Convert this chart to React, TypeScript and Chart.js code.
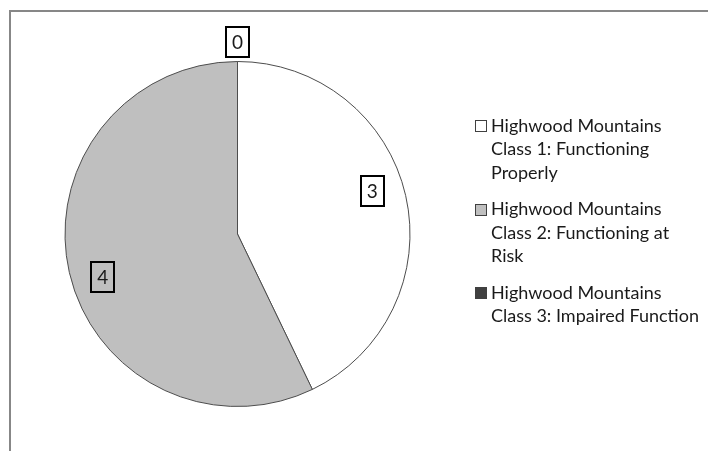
import React, { useEffect, useRef } from "react";
import { Chart, registerables } from "chart.js";

Chart.register(...registerables);

// Category names, split the way the legend wraps them
const categories: string[][] = [
  ["Highwood Mountains", "Class 1: Functioning", "Properly"],
  ["Highwood Mountains", "Class 2: Functioning at", "Risk"],
  ["Highwood Mountains", "Class 3: Impaired Function"],
];
const values: number[] = [3, 4, 0];
const sliceColors: string[] = ["#ffffff", "#bfbfbf", "#404040"];

const FONT = "Lato, 'Open Sans', sans-serif";
const TEXT_COLOR = "#1a1a1a";

export default function App() {
  const ref = useRef<HTMLCanvasElement>(null);

  useEffect(() => {
    const canvas = ref.current;
    if (!canvas) return;

    const framePlugin = {
      id: "frame",
      beforeDraw(chart: any) {
        const ctx = chart.ctx;
        ctx.save();
        ctx.fillStyle = "#ffffff";
        ctx.fillRect(0, 0, chart.width, chart.height);
        ctx.strokeStyle = "#878787";
        ctx.lineWidth = 2;
        ctx.beginPath();
        ctx.moveTo(10, chart.height);
        ctx.lineTo(10, 11);
        ctx.lineTo(chart.width, 11);
        ctx.stroke();
        ctx.restore();
      },
    };

    const labelPlugin = {
      id: "boxedLabels",
      afterDatasetsDraw(chart: any) {
        const ctx = chart.ctx;
        const meta = chart.getDatasetMeta(0);
        const shift = (-5 * Math.PI) / 180;
        ctx.save();
        ctx.font = `19px ${FONT}`;
        ctx.textAlign = "center";
        ctx.textBaseline = "middle";
        meta.data.forEach((arc: any, i: number) => {
          const p = arc.getProps(["x", "y", "startAngle", "endAngle", "outerRadius"], true);
          const v = values[i];
          let ang = (p.startAngle + p.endAngle) / 2;
          let r: number;
          if (v === 0) {
            r = p.outerRadius + 19.5;
          } else {
            ang += shift;
            r = p.outerRadius * 0.82;
          }
          const cx = p.x + Math.cos(ang) * r;
          const cy = p.y + Math.sin(ang) * r;
          const txt = String(v);
          const tw = ctx.measureText(txt).width;
          const w = Math.round(tw + 12);
          const h = 30;
          ctx.strokeStyle = "#000000";
          ctx.lineWidth = 2;
          ctx.strokeRect(Math.round(cx - w / 2), Math.round(cy - h / 2), w, h);
          ctx.fillStyle = TEXT_COLOR;
          ctx.fillText(txt, cx, cy + 1);
        });
        ctx.restore();
      },
    };

    const legendPlugin = {
      id: "sideLegend",
      afterDraw(chart: any) {
        const ctx = chart.ctx;
        const labels = chart.data.labels as string[][];
        const colors = chart.data.datasets[0].backgroundColor as string[];
        const lineH = 23.5;
        const gap = 13;
        let y = 126;
        ctx.save();
        ctx.font = `18px ${FONT}`;
        ctx.textAlign = "left";
        ctx.textBaseline = "middle";
        labels.forEach((lines, i) => {
          ctx.fillStyle = colors[i];
          ctx.fillRect(475.5, Math.round(y - 6) + 0.5, 11, 11);
          ctx.strokeStyle = "#404040";
          ctx.lineWidth = 1;
          ctx.strokeRect(475.5, Math.round(y - 6) + 0.5, 11, 11);
          ctx.fillStyle = TEXT_COLOR;
          lines.forEach((ln, j) => {
            ctx.fillText(ln, 491, y + j * lineH);
          });
          y += lines.length * lineH + gap;
        });
        ctx.restore();
      },
    };

    const chart = new Chart(canvas, {
      type: "pie",
      data: {
        labels: categories,
        datasets: [
          {
            data: values,
            backgroundColor: sliceColors,
            borderColor: "#4d4d4d",
            borderWidth: 1,
            hoverOffset: 0,
          },
        ],
      },
      options: {
        responsive: false,
        animation: false,
        devicePixelRatio: 1,
        layout: { padding: { left: 64, right: 297, top: 61, bottom: 44 } },
        plugins: {
          legend: { display: false },
          tooltip: { enabled: false },
        },
      },
      plugins: [framePlugin, labelPlugin, legendPlugin],
    } as any);

    return () => chart.destroy();
  }, []);

  return (
    <div style={{ position: "absolute", left: 0, top: 0, width: 708, height: 451, background: "#fff" }}>
      <canvas ref={ref} width={708} height={451} style={{ display: "block", width: 708, height: 451 }} />
    </div>
  );
}
